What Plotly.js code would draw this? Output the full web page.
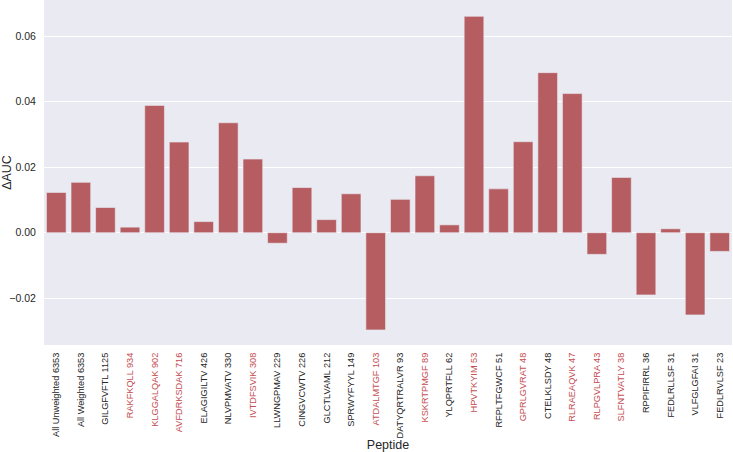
<!DOCTYPE html>
<html><head><meta charset="utf-8">
<script src="https://cdn.plot.ly/plotly-3.0.1.min.js"></script>
<style>html,body{margin:0;padding:0;background:#fff}</style>
</head><body><div id="chart" style="width:733px;height:452px"></div>
<script>
const peptides = ["All Unweighted 6353","All Weighted 6353","GILGFVFTL 1125","RAKFKQLL 934","KLGGALQAK 902","AVFDRKSDAK 716","ELAGIGILTV 426","NLVPMVATV 330","IVTDFSVIK 308","LLWNGPMAV 229","CINGVCWTV 226","GLCTLVAML 212","SPRWYFYYL 149","ATDALMTGF 103","DATYQRTRALVR 93","KSKRTPMGF 89","YLQPRTFLL 62","HPVTKYIM 53","RFPLTFGWCF 51","GPRLGVRAT 48","CTELKLSDY 48","RLRAEAQVK 47","RLPGVLPRA 43","SLFNTVATLY 38","RPPIFIRRL 36","FEDLRLLSF 31","VLFGLGFAI 31","FEDLRVLSF 23"];
const deltaAUC = [0.0123,0.0154,0.0077,0.0017,0.0389,0.0277,0.0034,0.0336,0.0225,-0.0032,0.0138,0.0040,0.0119,-0.0297,0.0102,0.0174,0.0024,0.0661,0.0134,0.0278,0.0489,0.0425,-0.0066,0.0169,-0.0190,0.0012,-0.0251,-0.0057];
const highlighted = ["RAKFKQLL 934","KLGGALQAK 902","AVFDRKSDAK 716","IVTDFSVIK 308","ATDALMTGF 103","KSKRTPMGF 89","HPVTKYIM 53","GPRLGVRAT 48","RLRAEAQVK 47","RLPGVLPRA 43","SLFNTVATLY 38"];
const yTicks = [-0.02,0,0.02,0.04,0.06];

const tickText = peptides.map(p => highlighted.includes(p) ? '<span style="color:#C44E52">'+p+'</span>' : p);

const trace = {
  type:'bar', x:peptides, y:deltaAUC,
  marker:{color:'#b55d60', line:{color:'#eaeaf2', width:0.6}},
  hoverinfo:'x+y'
};
const layout = {
  width:733, height:452,
  margin:{l:44, r:1, t:0, b:107},
  paper_bgcolor:'#ffffff', plot_bgcolor:'#eaeaf2',
  font:{family:'Liberation Sans, Arial, sans-serif', color:'#262626'},
  bargap:0.2,
  showlegend:false,
  xaxis:{
    type:'category', tickmode:'array', tickvals:peptides, ticktext:tickText,
    tickangle:-90, tickfont:{size:9.2, color:'#262626'}, showgrid:false, zeroline:false,
    ticks:'outside', ticklen:3, tickcolor:'rgba(0,0,0,0)', automargin:false,
    title:{text:'Peptide', font:{size:12.5, color:'#262626'}, standoff:3}
  },
  yaxis:{
    range:[-0.0343,0.0711], tickmode:'array', tickvals:yTicks, tickformat:'.2f',
    tickfont:{size:10.5, color:'#262626'}, gridcolor:'#ffffff', gridwidth:1,
    zeroline:false, ticks:'outside', ticklen:5, tickcolor:'rgba(0,0,0,0)', automargin:false,
    title:{text:'ΔAUC', font:{size:12.5, color:'#262626'}, standoff:6}
  }
};
Plotly.newPlot('chart',[trace],layout,{displayModeBar:false, staticPlot:true});
</script></body></html>
